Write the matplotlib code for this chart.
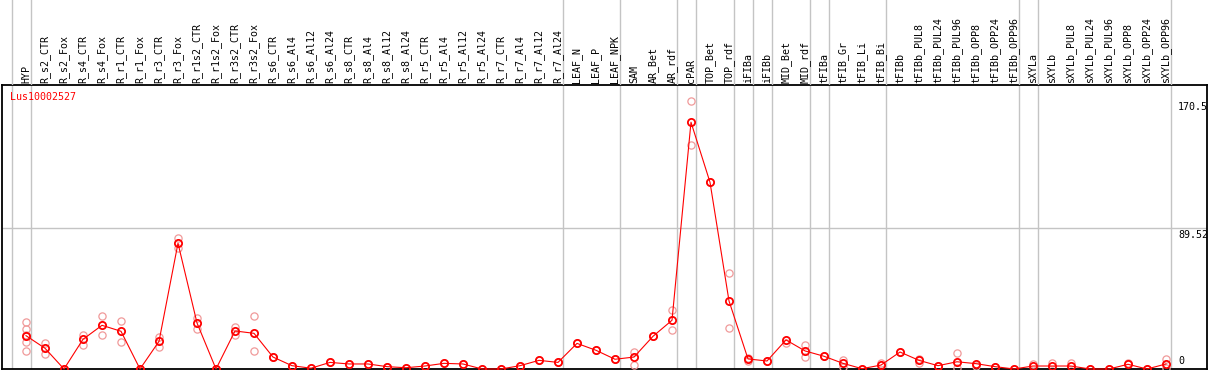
import matplotlib
matplotlib.use("Agg")
import matplotlib.pyplot as plt
import numpy as np

gene = "Lus10002527"

categories = [
    "HYP", "R_s2_CTR", "R_s2_Fox", "R_s4_CTR", "R_s4_Fox", "R_r1_CTR", "R_r1_Fox",
    "R_r3_CTR", "R_r3_Fox", "R_r1s2_CTR", "R_r1s2_Fox", "R_r3s2_CTR", "R_r3s2_Fox",
    "R_s6_CTR", "R_s6_Al4", "R_s6_Al12", "R_s6_Al24", "R_s8_CTR", "R_s8_Al4",
    "R_s8_Al12", "R_s8_Al24", "R_r5_CTR", "R_r5_Al4", "R_r5_Al12", "R_r5_Al24",
    "R_r7_CTR", "R_r7_Al4", "R_r7_Al12", "R_r7_Al24", "LEAF_N", "LEAF_P", "LEAF_NPK",
    "SAM", "AR_Bet", "AR_rdf", "cPAR", "TOP_Bet", "TOP_rdf", "iFIBa", "iFIBb",
    "MID_Bet", "MID_rdf", "tFIBa", "tFIB_Gr", "tFIB_Li", "tFIB_Bi", "tFIBb",
    "tFIBb_PUL8", "tFIBb_PUL24", "tFIBb_PUL96", "tFIBb_OPP8", "tFIBb_OPP24",
    "tFIBb_OPP96", "sXYLa", "sXYLb", "sXYLb_PUL8", "sXYLb_PUL24", "sXYLb_PUL96",
    "sXYLb_OPP8", "sXYLb_OPP24", "sXYLb_OPP96",
]

# group sizes (sample groups separated by grey lines)
group_sizes = [1, 28, 3, 3, 1, 2, 1, 1, 2, 1, 3, 7, 1, 7]

means = [
    21.2, 13.2, 0.0, 18.9, 27.8, 24.0, 0.0, 17.6, 80.0, 29.3, 0.0, 24.2, 22.7,
    7.6, 2.1, 0.5, 4.2, 3.2, 3.2, 1.5, 0.8, 1.9, 3.6, 3.2, 0.0, 0.0, 2.1, 5.5, 4.2,
    16.3, 11.9, 6.2, 7.6, 20.8, 31.0, 157.0, 118.8, 43.3, 6.4, 5.1, 18.5, 11.5,
    8.1, 3.6, 0.2, 2.5, 10.8, 5.5, 2.1, 4.6, 3.4, 1.5, 0.0, 1.9, 1.9, 1.9, 0.0,
    0.0, 3.0, 0.0, 3.2,
]

replicates = [
    [30.0, 25.6, 21.6, 17.4, 11.6], [16.8, 9.5], [0.0], [21.6, 15.5], [33.5, 21.4],
    [30.3, 17.0], [0.0], [20.4, 14.2], [83.5, 76.8], [32.4, 25.7], [0.0],
    [26.9, 21.4], [33.5, 11.3], [7.6], [2.1], [0.5], [4.2], [3.2], [3.2], [1.5],
    [0.8], [1.9], [3.6], [3.2], [0.0], [0.0], [2.1], [5.5], [4.2], [16.3], [11.9],
    [6.2], [11.0, 2.3], [20.8], [37.3, 24.6], [170.5, 142.3], [118.8], [60.9, 25.9],
    [5.1, 7.0], [5.1], [16.8], [15.1, 7.6], [8.1], [5.7, 1.1], [0.2], [4.0],
    [10.8], [4.0, 6.5], [2.1], [10.2, 0.5], [1.9], [1.5], [0.0], [3.2], [3.6],
    [3.6], [0.0], [0.0], [3.6], [0.0], [6.6, 0.5],
]

y_ticks = [0, 89.52, 170.5]
y_tick_labels = ["0", "89.52", "170.5"]

W, H = 1209, 370
fig = plt.figure(figsize=(W / 100, H / 100), dpi=100)

# layout in pixels
px_left, px_right = 2, 1207
px_plot_top, px_plot_bottom = 85, 369
col0_px, col_step = 26, 19
scale = (px_plot_bottom - 101) / 170.5

x_lo = (px_left - col0_px) / col_step
x_hi = (px_right - col0_px) / col_step
y_hi = (px_plot_bottom - px_plot_top) / scale

ax = fig.add_axes([px_left / W, (H - px_plot_bottom) / H,
                   (px_right - px_left) / W, (px_plot_bottom - px_plot_top) / H])
ax_lab = fig.add_axes([px_left / W, (H - px_plot_top) / H,
                       (px_right - px_left) / W, px_plot_top / H], sharex=ax)

ax.set_xlim(x_lo, x_hi)
ax.set_ylim(0, y_hi)
for s in ax.spines.values():
    s.set_color("black")
    s.set_linewidth(1.3)
ax.set_xticks([])
ax.set_yticks([])

ax_lab.set_ylim(0, 1)
ax_lab.axis("off")

grey = "#c4c4c4"
# group separators
bounds = [-1] + list(np.cumsum(group_sizes) - 1)
for b in bounds:
    ax.axvline(b + 0.25, color=grey, lw=1.0, zorder=1)
    ax_lab.axvline(b + 0.25, color=grey, lw=1.0, zorder=1)

ax.axhline(y_ticks[1], color=grey, lw=1.0, zorder=1)

x = np.arange(len(categories))
mono = "DejaVu Sans Mono"

# labels
for xi, lab in zip(x, categories):
    ax_lab.text(xi, 0.025, lab, rotation=90, ha="center", va="bottom",
                fontsize=7.2, family=mono, color="black")

# replicates
for xi, reps in zip(x, replicates):
    ax.plot([xi] * len(reps), reps, linestyle="none", marker="o", markersize=5.2,
            markerfacecolor="none", markeredgecolor="#f09a9a", markeredgewidth=0.9,
            clip_on=False, zorder=3)

ax.plot(x, means, color="#ff0000", lw=0.8, marker="o", markersize=5.2,
        markerfacecolor="none", markeredgecolor="#ff0000", markeredgewidth=1.3,
        clip_on=False, zorder=4)

# right-side value labels
lab_x = (1178 - col0_px) / col_step
for v, t in zip(y_ticks, y_tick_labels):
    if v == 0:
        ax.annotate(t, (lab_x, v), xytext=(0, 2), textcoords="offset points",
                    ha="left", va="bottom", fontsize=7.2, family=mono)
    else:
        ax.annotate(t, (lab_x, v), xytext=(0, -1), textcoords="offset points",
                    ha="left", va="top", fontsize=7.2, family=mono)

ax.text(8 / (px_right - px_left), 1 - 12 / (px_plot_bottom - px_plot_top), gene,
        transform=ax.transAxes, ha="left", va="center", fontsize=7.2,
        family=mono, color="#ff0000")

fig.savefig("out.png", dpi=100)
